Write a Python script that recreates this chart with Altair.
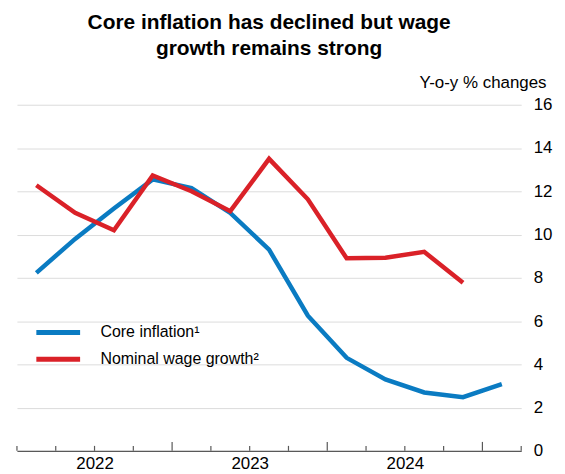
import altair as alt
import pandas as pd

quarters = ["2022Q1", "2022Q2", "2022Q3", "2022Q4", "2023Q1", "2023Q2", "2023Q3",
            "2023Q4", "2024Q1", "2024Q2", "2024Q3", "2024Q4", "2025Q1"]
core_inflation = [8.23, 9.8, 11.2, 12.55, 12.15, 11.0, 9.3, 6.25, 4.3, 3.3, 2.7, 2.48, 3.08]
wage_growth = [12.28, 11.0, 10.2, 12.73, 12.0, 11.08, 13.5, 11.63, 8.9, 8.93, 9.2, 7.77]
series_names = ["Core inflation¹", "Nominal wage growth²"]
series_colors = ["#0a7bc2", "#da2128"]
year_labels = ["2022", "2023", "2024"]
y_ticks = [0, 2, 4, 6, 8, 10, 12, 14, 16]

W, H = 507, 348

rows = []
for i, v in enumerate(core_inflation):
    rows.append({"pos": i + 0.5, "quarter": quarters[i], "value": v, "series": series_names[0]})
for i, v in enumerate(wage_growth):
    rows.append({"pos": i + 0.5, "quarter": quarters[i], "value": v, "series": series_names[1]})
df = pd.DataFrame(rows)

n_q = len(quarters)
tick_df = pd.DataFrame({"pos": list(range(n_q + 1))})
tick_df["major"] = [(p % 4 == 0 and 0 < p < n_q) for p in tick_df["pos"]]

label_expr = " : ".join(
    f"datum.value == {2 + 4 * k} ? '{y}'" for k, y in enumerate(year_labels)
) + " : ''"

xscale = alt.Scale(domain=[0, n_q], nice=False, zero=False)
yscale = alt.Scale(domain=[0, 16], nice=False)

lines = alt.Chart(df).mark_line(strokeWidth=4.5, strokeJoin="miter", strokeCap="butt").encode(
    x=alt.X("pos:Q", scale=xscale,
            axis=alt.Axis(values=[2, 6, 10], labelExpr=label_expr, title=None, grid=False,
                          ticks=False, domain=True, domainColor="#595959", domainWidth=1.3,
                          labelFontSize=17, labelPadding=5, labelColor="#000000")),
    y=alt.Y("value:Q", scale=yscale,
            axis=alt.Axis(orient="right", values=y_ticks, grid=True, gridColor="#dcdcdc",
                          gridWidth=1, domain=False, ticks=False, labelPadding=12,
                          labelFontSize=17, labelColor="#000000", labelAlign="left",
                          title="Y-o-y % changes", titleAngle=0, titleAlign="right",
                          titleBaseline="alphabetic", titleX=25, titleY=-17,
                          titleFontSize=17, titleFontWeight="normal", titleColor="#000000")),
    color=alt.Color("series:N",
                    scale=alt.Scale(domain=series_names, range=series_colors),
                    legend=alt.Legend(orient="none", legendX=17, legendY=221, title=None,
                                      symbolType="stroke", symbolSize=1936,
                                      symbolStrokeWidth=5, clipHeight=16, rowPadding=11,
                                      labelFontSize=16, labelOffset=18, labelColor="#000000")),
    order=alt.Order("series:N"),
    detail="series:N",
)

minor_ticks = alt.Chart(tick_df).transform_filter("!datum.major").mark_rule(
    color="#595959", strokeWidth=1.2).encode(
    x=alt.X("pos:Q", scale=xscale), y=alt.value(H - 5), y2=alt.value(H))
major_ticks = alt.Chart(tick_df).transform_filter("datum.major").mark_rule(
    color="#595959", strokeWidth=1.2).encode(
    x=alt.X("pos:Q", scale=xscale), y=alt.value(H - 9), y2=alt.value(H))

chart = alt.layer(minor_ticks, major_ticks, lines).properties(
    width=W, height=H,
    padding={"left": 8, "top": 3, "right": 5, "bottom": 3},
    title=alt.TitleParams(
        text=["Core inflation has declined but wage", "growth remains strong"],
        fontSize=21, fontWeight="bold", anchor="middle", frame="group",
        lineHeight=26, offset=15, color="#000000", font="Liberation Sans"),
).configure(font="Liberation Sans").configure_view(stroke=None)

chart.save("out.html", embed_options={"renderer": "svg", "actions": False})
